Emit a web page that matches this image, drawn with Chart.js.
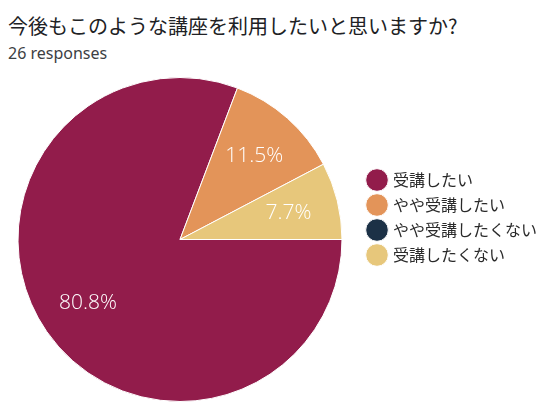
<!DOCTYPE html>
<html>
<head>
<meta charset="utf-8">
<script src="https://cdn.jsdelivr.net/npm/chart.js@4"></script>
<style>
  html, body { margin: 0; padding: 0; background: #fff; }
  body { width: 550px; height: 412px; position: relative; overflow: hidden; }
  #title { position: absolute; left: 8px; top: 14px; font: 20px/24px "Noto Sans CJK JP", "Noto Sans", sans-serif; color: #202124; white-space: nowrap; }
  #sub { position: absolute; left: 8px; top: 43px; font: 16px/20px "Noto Sans", sans-serif; color: #3c4043; }
  #wrap { position: absolute; left: 0; top: 70px; width: 550px; height: 342px; }
</style>
</head>
<body>
<div id="title">今後もこのような講座を利用したいと思いますか?</div>
<div id="sub">26 responses</div>
<div id="wrap"><canvas id="pie"></canvas></div>
<script>
// 回答データ
const labels = ['受講したい', 'やや受講したい', 'やや受講したくない', '受講したくない'];
const counts = [21, 3, 0, 2];
const colors = ['#921c4b', '#e39459', '#1c3146', '#e7c77b'];

// スライスの中に割合を描く
const percentLabels = {
    id: 'percentLabels',
    afterDatasetsDraw(chart) {
        const ctx = chart.ctx;
        const meta = chart.getDatasetMeta(0);
        const total = counts.reduce((a, b) => a + b, 0);
        ctx.save();
        ctx.fillStyle = '#ffffff';
        ctx.font = '300 21px "Open Sans", "Noto Sans", sans-serif';
        ctx.textAlign = 'center';
        ctx.textBaseline = 'middle';
        meta.data.forEach((arc, i) => {
            if (!counts[i]) return;
            const mid = (arc.startAngle + arc.endAngle) / 2;
            const r = arc.outerRadius * 0.69;
            const txt = (counts[i] / total * 100).toFixed(1) + '%';
            ctx.fillText(txt, arc.x + Math.cos(mid) * r, arc.y + Math.sin(mid) * r);
        });
        ctx.restore();
    }
};

new Chart(document.getElementById('pie'), {
    type: 'pie',
    data: {
        labels: labels,
        datasets: [{
            data: counts,
            backgroundColor: colors,
            borderColor: '#ffffff',
            borderWidth: 1
        }]
    },
    options: {
        responsive: true,
        maintainAspectRatio: false,
        animation: false,
        rotation: 90,
        layout: { padding: { left: -5, right: 3, top: 7, bottom: 10 } },
        plugins: {
            tooltip: { enabled: false },
            legend: {
                position: 'right',
                align: 'start',
                title: { display: true, text: ' ', font: { size: 10, lineHeight: 1 }, padding: { top: 76, bottom: 0 } },
                labels: {
                    usePointStyle: true,
                    pointStyle: 'circle',
                    boxHeight: 18,
                    padding: 9,
                    color: '#2a2a2a',
                    font: { size: 16, family: '"Noto Sans CJK JP", "Noto Sans", sans-serif' }
                }
            }
        }
    },
    plugins: [percentLabels]
});
</script>
</body>
</html>
